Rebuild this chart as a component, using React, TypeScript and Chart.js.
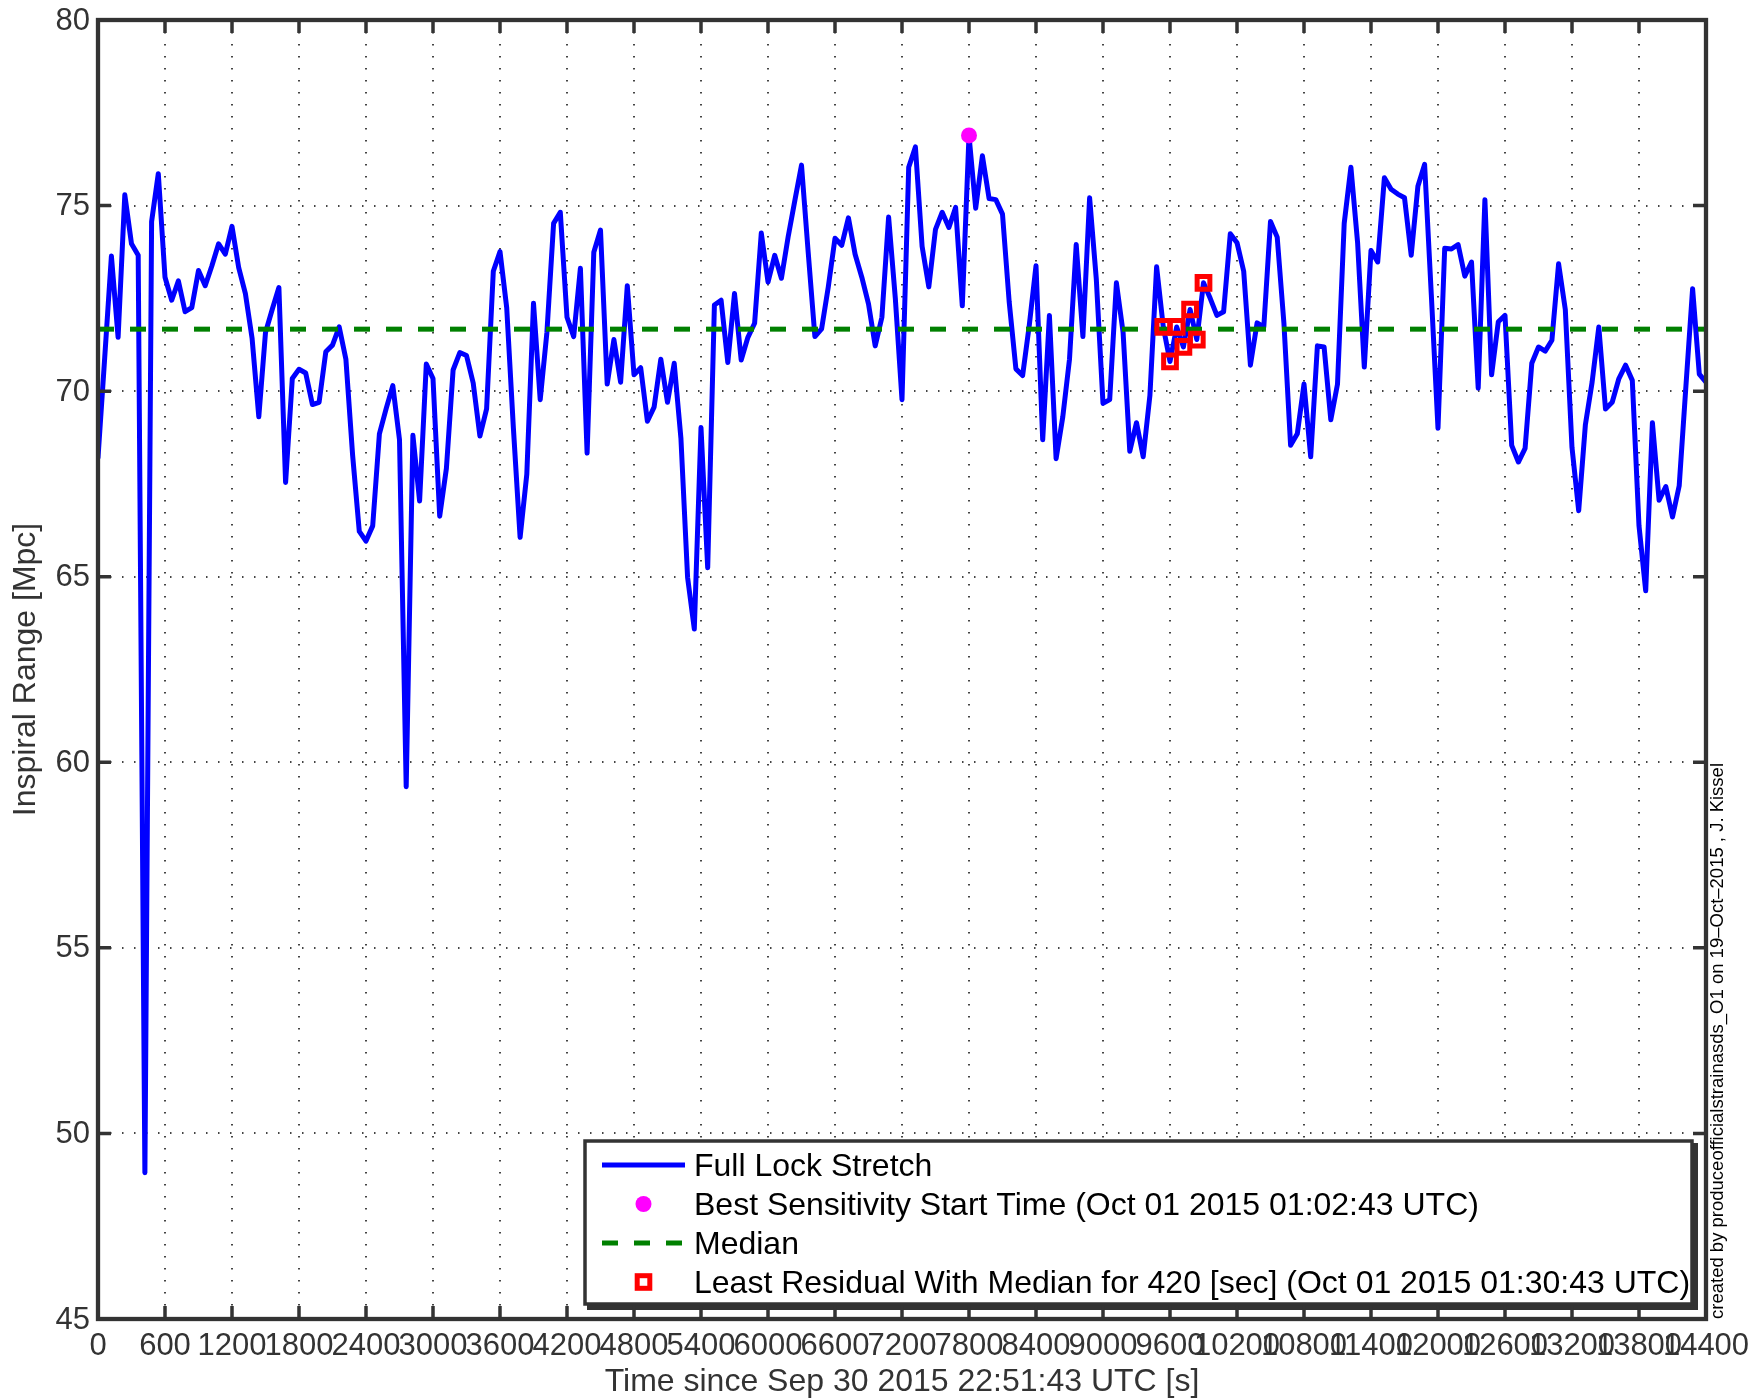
import React, { useEffect, useRef } from 'react';
import { Chart, registerables } from 'chart.js';

Chart.register(...registerables);

// ---------------- data ----------------
const sampleStepSec = 60;
const rangeMpc = [
  68.2, 70.9, 73.64, 71.45, 75.29, 73.97, 73.66, 48.94, 74.57, 75.86,
  73.07, 72.45, 72.97, 72.14, 72.25, 73.25, 72.84, 73.38, 73.97, 73.69,
  74.44, 73.33, 72.63, 71.42, 69.31, 71.58, 72.2, 72.79, 67.54, 70.34,
  70.59, 70.49, 69.64, 69.7, 71.06, 71.24, 71.73, 70.86, 68.28, 66.22,
  65.96, 66.37, 68.85, 69.52, 70.15, 68.69, 59.34, 68.81, 67.04, 70.73,
  70.34, 66.63, 67.92, 70.57, 71.04, 70.96, 70.22, 68.79, 69.52, 73.23,
  73.76, 72.25, 69.0, 66.06, 67.76, 72.37, 69.77, 71.58, 74.52, 74.82,
  71.99, 71.47, 73.31, 68.33, 73.74, 74.34, 70.19, 71.39, 70.24, 72.84,
  70.44, 70.63, 69.19, 69.57, 70.86, 69.7, 70.75, 68.74, 64.98, 63.59,
  69.02, 65.24, 72.32, 72.45, 70.77, 72.63, 70.84, 71.45, 71.83, 74.26,
  72.94, 73.66, 73.04, 74.15, 75.13, 76.09, 73.74, 71.47, 71.68, 72.81,
  74.12, 73.93, 74.67, 73.69, 73.07, 72.35, 71.22, 71.99, 74.69, 72.51,
  69.77, 76.03, 76.58, 73.9, 72.81, 74.36, 74.82, 74.41, 74.95, 72.3,
  76.89, 74.93, 76.34, 75.19, 75.16, 74.77, 72.4, 70.6, 70.42, 71.78,
  73.38, 68.69, 72.04, 68.18, 69.31, 70.86, 73.95, 71.47, 75.21, 73.02,
  69.67, 69.77, 72.92, 71.58, 68.38, 69.15, 68.23, 69.88, 73.35, 71.73,
  70.8, 71.73, 71.19, 72.2, 71.39, 72.92, 72.5, 72.04, 72.14, 74.24,
  74.0, 73.23, 70.7, 71.84, 71.73, 74.57, 74.15, 71.84, 68.54, 68.85,
  70.19, 68.23, 71.22, 71.19, 69.23, 70.19, 74.52, 76.03, 74.0, 70.65,
  73.79, 73.48, 75.75, 75.44, 75.31, 75.21, 73.66, 75.52, 76.11, 72.61,
  69.0, 73.85, 73.83, 73.95, 73.1, 73.48, 70.08, 75.16, 70.44, 71.87,
  72.04, 68.54, 68.09, 68.46, 70.75, 71.19, 71.08, 71.37, 73.43, 72.2,
  68.48, 66.78, 69.1, 70.24, 71.73, 69.52, 69.7, 70.34, 70.7, 70.29,
  66.37, 64.62, 69.15, 67.06, 67.43, 66.61, 67.45, 70.13, 72.76, 70.46,
  70.24,
];
const medianMpc = 71.67;
const bestTimeSec = 7800;
const bestMpc = 76.89;
const residualStartSec = 9540;
const residualDurationSec = 420;

const xMin = 0;
const xMax = 14400;
const xStep = 600;
const yMin = 45;
const yMax = 80;
const yStep = 5;

const xTitle = 'Time since Sep 30 2015 22:51:43 UTC [s]';
const yTitle = 'Inspiral Range [Mpc]';
const legendLabels = [
  'Full Lock Stretch',
  'Best Sensitivity Start Time (Oct 01 2015 01:02:43 UTC)',
  'Median',
  'Least Residual With Median for 420 [sec] (Oct 01 2015 01:30:43 UTC)',
];
const creditText = 'created by produceofficialstrainasds_O1 on 19\u2013Oct\u20132015 , J. Kissel';

// ---------------- styles ----------------
const BLUE = '#0000ff';
const GREEN = '#008000';
const MAGENTA = '#ff00ff';
const RED = '#ff0000';
const AXIS = '#333333';
const FONT = '"Liberation Sans", Arial, Helvetica, sans-serif';
const LINE_W = 5;

const linePts = rangeMpc.map((v, i) => ({ x: i * sampleStepSec, y: v }));
const residualPts = linePts.filter(
  (p) => p.x >= residualStartSec && p.x < residualStartSec + residualDurationSec
);

const decorPlugin = {
  id: 'decor',
  afterDraw(chart: any) {
    const { ctx, chartArea: a, scales } = chart;
    const xs = scales.x;
    const ys = scales.y;
    ctx.save();

    // ----- legend -----
    const lx = 585, ly = 1141, lw = 1107, lh = 163;
    ctx.fillStyle = AXIS;
    ctx.fillRect(lx + 2, ly + 2, lw + 4, lh + 4);
    ctx.fillStyle = '#ffffff';
    ctx.fillRect(lx, ly, lw, lh);
    ctx.strokeStyle = AXIS;
    ctx.lineWidth = 3.5;
    ctx.strokeRect(lx, ly, lw, lh);

    const rows = [1165, 1204, 1243, 1282];
    // line sample
    ctx.strokeStyle = BLUE;
    ctx.lineWidth = LINE_W;
    ctx.beginPath();
    ctx.moveTo(602, rows[0]);
    ctx.lineTo(685, rows[0]);
    ctx.stroke();
    // dot sample
    ctx.fillStyle = MAGENTA;
    ctx.beginPath();
    ctx.arc(643.5, rows[1], 8, 0, Math.PI * 2);
    ctx.fill();
    // median sample
    ctx.strokeStyle = GREEN;
    ctx.setLineDash([16, 16]);
    ctx.beginPath();
    ctx.moveTo(602, rows[2]);
    ctx.lineTo(686, rows[2]);
    ctx.stroke();
    ctx.setLineDash([]);
    // square sample
    ctx.strokeStyle = RED;
    ctx.lineWidth = LINE_W;
    ctx.strokeRect(643.5 - 6.3, rows[3] - 6.3, 12.6, 12.6);

    ctx.fillStyle = '#000000';
    ctx.font = `32px ${FONT}`;
    ctx.textAlign = 'left';
    ctx.textBaseline = 'middle';
    legendLabels.forEach((t, i) => ctx.fillText(t, 694, rows[i] + 2));

    // ----- inward tick marks -----
    ctx.strokeStyle = AXIS;
    ctx.lineWidth = 3.5;
    ctx.beginPath();
    xs.ticks.forEach((t: any) => {
      const px = xs.getPixelForValue(t.value);
      ctx.moveTo(px, a.bottom);
      ctx.lineTo(px, a.bottom - 13);
      ctx.moveTo(px, a.top);
      ctx.lineTo(px, a.top + 13);
    });
    ys.ticks.forEach((t: any) => {
      const py = ys.getPixelForValue(t.value);
      ctx.moveTo(a.left, py);
      ctx.lineTo(a.left + 13, py);
      ctx.moveTo(a.right, py);
      ctx.lineTo(a.right - 13, py);
    });
    ctx.stroke();

    // ----- frame -----
    ctx.lineWidth = 4.3;
    ctx.strokeRect(a.left, a.top, a.right - a.left, a.bottom - a.top);

    // ----- tick labels -----
    ctx.fillStyle = AXIS;
    ctx.font = `31px ${FONT}`;
    ctx.textAlign = 'center';
    ctx.textBaseline = 'middle';
    xs.ticks.forEach((t: any) => {
      ctx.fillText(String(t.value), xs.getPixelForValue(t.value), a.bottom + 27);
    });
    ctx.textAlign = 'right';
    ys.ticks.forEach((t: any) => {
      ctx.fillText(String(t.value), a.left - 8, ys.getPixelForValue(t.value) + 1);
    });

    // ----- axis titles -----
    ctx.font = `32px ${FONT}`;
    ctx.textAlign = 'center';
    ctx.textBaseline = 'alphabetic';
    ctx.fillText(xTitle, (a.left + a.right) / 2, 1391);

    ctx.save();
    ctx.translate(35, (a.top + a.bottom) / 2);
    ctx.rotate(-Math.PI / 2);
    ctx.fillText(yTitle, 0, 0);
    ctx.restore();

    // ----- credit -----
    ctx.save();
    ctx.fillStyle = '#000000';
    ctx.font = `18.5px ${FONT}`;
    ctx.translate(1723, a.bottom);
    ctx.rotate(-Math.PI / 2);
    ctx.textAlign = 'left';
    ctx.textBaseline = 'alphabetic';
    ctx.fillText(creditText, 0, 0);
    ctx.restore();

    ctx.restore();
  },
};

export default function App() {
  const ref = useRef<HTMLCanvasElement>(null);

  useEffect(() => {
    document.body.style.margin = '0';
    const canvas = ref.current;
    if (!canvas) return;
    const gridColor = '#444444';
    const chart = new Chart(canvas, {
      type: 'scatter',
      data: {
        datasets: [
          {
            label: legendLabels[3],
            data: residualPts,
            showLine: false,
            pointStyle: 'rect',
            pointRadius: 9,
            borderColor: RED,
            borderWidth: LINE_W,
            backgroundColor: 'rgba(0,0,0,0)',
            order: 0,
          },
          {
            label: legendLabels[2],
            data: [
              { x: xMin, y: medianMpc },
              { x: xMax, y: medianMpc },
            ],
            showLine: true,
            borderColor: GREEN,
            borderWidth: LINE_W,
            borderDash: [16, 16],
            pointRadius: 0,
            order: 1,
          },
          {
            label: legendLabels[1],
            data: [{ x: bestTimeSec, y: bestMpc }],
            showLine: false,
            pointRadius: 8,
            backgroundColor: MAGENTA,
            borderWidth: 0,
            order: 2,
          },
          {
            label: legendLabels[0],
            data: linePts,
            showLine: true,
            borderColor: BLUE,
            borderWidth: LINE_W,
            borderJoinStyle: 'round',
            borderCapStyle: 'round',
            pointRadius: 0,
            order: 3,
          },
        ],
      } as any,
      options: {
        animation: false,
        responsive: false,
        devicePixelRatio: 1,
        events: [],
        layout: { padding: { left: 98, right: 48, top: 20, bottom: 81 } },
        plugins: {
          legend: { display: false },
          tooltip: { enabled: false },
          title: { display: false },
        },
        scales: {
          x: {
            type: 'linear',
            min: xMin,
            max: xMax,
            ticks: { stepSize: xStep, display: false },
            grid: { color: gridColor, lineWidth: 2, drawTicks: false },
            border: { display: false, dash: [1.5, 10.5] },
          },
          y: {
            type: 'linear',
            min: yMin,
            max: yMax,
            ticks: { stepSize: yStep, display: false },
            grid: { color: gridColor, lineWidth: 2, drawTicks: false },
            border: { display: false, dash: [1.5, 10.5] },
          },
        },
      } as any,
      plugins: [decorPlugin],
    });
    return () => chart.destroy();
  }, []);

  return (
    <canvas
      ref={ref}
      width={1754}
      height={1400}
      style={{ display: 'block', width: 1754, height: 1400 }}
    />
  );
}
